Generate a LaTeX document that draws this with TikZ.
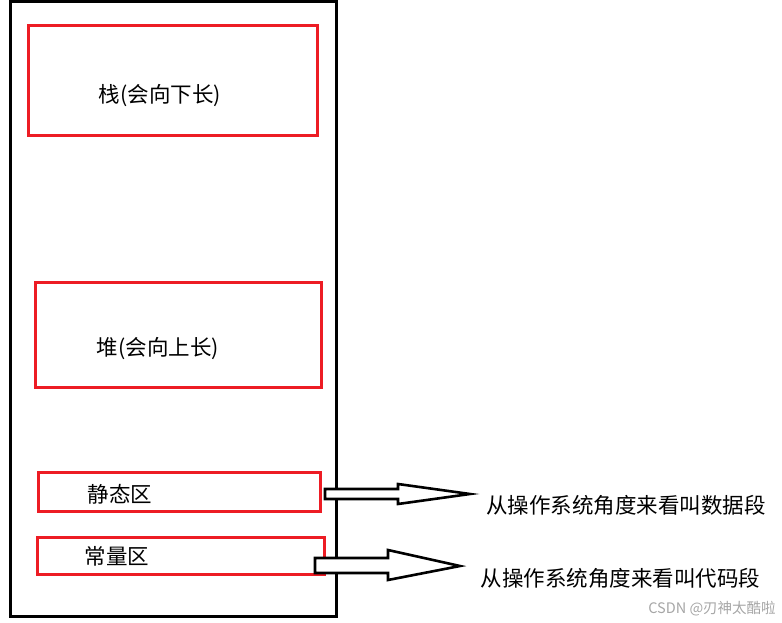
\documentclass[tikz,border=0pt]{standalone}
\usepackage{fontspec}
\setmainfont{Noto Sans CJK SC}
\newfontfamily\cjkf{Noto Sans CJK SC}
\definecolor{boxred}{HTML}{ED1C24}
\begin{document}
\begin{tikzpicture}[x=1pt,y=-1pt,
  redbox/.style={draw=boxred,line width=3pt,inner sep=0pt},
  lbl/.style={inner sep=0pt,font=\cjkf\fontsize{21.5}{25}\selectfont},
  blockarrow/.style={draw=black,fill=white,line width=2.6pt,line join=miter}]
\useasboundingbox (0,0) rectangle (782,623);
\draw[line width=3pt] (10,2) rectangle (336,616);
% boxes
\node[redbox,minimum width=289pt,minimum height=110pt] (stack) at (172.5,81) {};
\node[lbl] (stackt) at (160,96) {栈(会向下长)};
\node[redbox,minimum width=286pt,minimum height=105pt] (heap) at (178,334.5) {};
\node[lbl] (heapt) at (158,349) {堆(会向上长)};
\node[redbox,minimum width=282pt,minimum height=39pt] (static) at (179,491.5) {};
\node[lbl] (statict) at (120,494) {静态区};
\node[redbox,minimum width=287pt,minimum height=37pt] (const) at (180.5,555.5) {};
\node[lbl] (constt) at (117,556) {常量区};
% right labels
\node[lbl] (datat) at (626,505) {从操作系统角度来看叫数据段};
\node[lbl] (codet) at (620.5,578) {从操作系统角度来看叫代码段};
% arrows
\coordinate (a1) at (325,494);
\coordinate (a2) at (315,565.5);
\draw[blockarrow] (a1) ++(0,-5) -- ++(73,0) -- ++(0,-5) -- ++(72,10) -- ++(-72,10) -- ++(0,-5) -- ++(-73,0) -- cycle;
\draw[blockarrow] (a2) ++(0,-7.5) -- ++(73,0) -- ++(0,-8) -- ++(72,16) -- ++(-72,14) -- ++(0,-7) -- ++(-73,0) -- cycle;
% watermark
\node[inner sep=0pt,text=black!35,font=\cjkf\fontsize{14.5}{17}\selectfont] (wm) at (712,609) {CSDN @刃神太酷啦};
\end{tikzpicture}
\end{document}
